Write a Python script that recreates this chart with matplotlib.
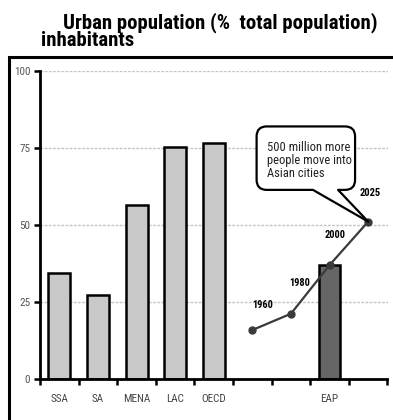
import matplotlib
matplotlib.use('Agg')
import matplotlib.pyplot as plt
from matplotlib import font_manager
from matplotlib.patches import Rectangle, PathPatch
from matplotlib.path import Path

# Data
regions = ['SSA', 'SA', 'MENA', 'LAC', 'OECD', '', '', 'EAP', '']
bar_values = [34.5, 27.2, 56.6, 75.4, 76.5, None, None, 37.0, None]
years = ['1960', '1980', '2000', '2025']
eap_trend = [15.9, 21.2, 37.0, 51.1]
trend_slots = [5, 6, 7, 8]

# look for a narrow font (the original uses Arial Narrow)
family, stretch = 'Liberation Sans', 'normal'
fonts = font_manager.fontManager.ttflist
for want in ['Liberation Sans Narrow', 'Roboto Condensed', 'Open Sans Condensed']:
    if any(f.name == want for f in fonts):
        family = want
        break
else:
    for want in ['Liberation Sans', 'Roboto', 'Open Sans', 'Noto Sans', 'DejaVu Sans']:
        if any(f.name == want and f.stretch == 'condensed' for f in fonts):
            family, stretch = want, 'condensed'
            break
plt.rcParams['font.family'] = [family, 'DejaVu Sans']
plt.rcParams['font.stretch'] = stretch

W, H = 393, 420
fig = plt.figure(figsize=(W / 100, H / 100), dpi=100)
ax = fig.add_axes([40 / W, 1 - 379 / H, 347.5 / W, 308 / H])
renderer = fig.canvas.get_renderer()


def fit(t, width_px):
    # scale a text so it is about as wide as in the original
    w = t.get_window_extent(renderer).width
    t.set_fontsize(t.get_fontsize() * width_px / w)


# outer frame (runs off the right and bottom edges)
fig.patches.append(Rectangle((9 / W, -0.1), 1.2, 1 - 57 / H + 0.1,
                             transform=fig.transFigure, fill=False,
                             edgecolor='black', linewidth=2.2))

t = fig.text(220 / W, 1 - 23 / H, 'Urban population (%  total population)',
             ha='center', va='center', fontsize=14, fontweight='bold')
fit(t, 316)
t = fig.text(41 / W, 1 - 41 / H, 'inhabitants', ha='left', va='center',
             fontsize=14, fontweight='bold')
fit(t, 94)

for i, v in enumerate(bar_values):
    if v is None:
        continue
    dark = regions[i] == 'EAP'
    ax.bar(i, v, width=0.53 if dark else 0.57,
           color='#666666' if dark else '#c8c8c8',
           edgecolor='black', linewidth=1.8, zorder=2)

ax.plot(trend_slots, eap_trend, color='#3a3a3a', linewidth=1.6,
        marker='o', markersize=5, zorder=3)
offsets = [(0.28, 8.1), (0.23, 10), (0.14, 9.8), (0.05, 9.3)]
for x, y, lab, (dx, dy) in zip(trend_slots, eap_trend, years, offsets):
    t = ax.text(x + dx, y + dy, lab, ha='center', va='center',
                fontsize=9, fontweight='bold')
    fit(t, 21)

# callout: rounded box with a tail pointing at the 2025 point
x0, x1, y0, y1 = 5.11, 7.66, 61.4, 82.0
rx, ry = 0.26, 3.25
tip = (trend_slots[-1], eap_trend[-1])
verts = [(x0 + rx, y1), (x1 - rx, y1), (x1, y1), (x1, y1 - ry),
         (x1, y0 + ry), (x1, y0), (x1 - rx, y0),
         (7.22, y0), tip, (6.57, y0),
         (x0 + rx, y0), (x0, y0), (x0, y0 + ry),
         (x0, y1 - ry), (x0, y1), (x0 + rx, y1), (x0 + rx, y1)]
codes = [Path.MOVETO, Path.LINETO, Path.CURVE3, Path.CURVE3,
         Path.LINETO, Path.CURVE3, Path.CURVE3,
         Path.LINETO, Path.LINETO, Path.LINETO,
         Path.LINETO, Path.CURVE3, Path.CURVE3,
         Path.LINETO, Path.CURVE3, Path.CURVE3, Path.CLOSEPOLY]
ax.add_patch(PathPatch(Path(verts, codes), facecolor='white',
                       edgecolor='black', linewidth=1.6, joinstyle='round',
                       zorder=4))
t = ax.text(5.37, 70.8, '500 million more\npeople move into\nAsian cities',
            ha='left', va='center', fontsize=8.5, linespacing=1.0,
            color='#222222', zorder=6)
fit(t, 84)

ax.set_xlim(-0.5, 8.5)
ax.set_ylim(0, 100)
ax.set_yticks([0, 25, 50, 75, 100])
ax.set_xticks([i + 0.5 for i in range(-1, 9)], minor=True)
ax.set_xticks(range(len(regions)))
ax.set_xticklabels(regions)
ax.tick_params(axis='x', which='major', length=0, pad=11, labelsize=8,
               labelcolor='#444444')
ax.tick_params(axis='x', which='minor', length=4, width=1.8, direction='out')
ax.tick_params(axis='y', length=4, width=1.8, labelsize=8, labelcolor='#555555',
               pad=3)
ax.grid(axis='y', color='#c4c4c4', linestyle=(0, (2, 1)), linewidth=1, zorder=0)
ax.set_axisbelow(True)
for s in ['top', 'right']:
    ax.spines[s].set_visible(False)
for s in ['left', 'bottom']:
    ax.spines[s].set_linewidth(2)

fig.savefig('out.png', dpi=100)
